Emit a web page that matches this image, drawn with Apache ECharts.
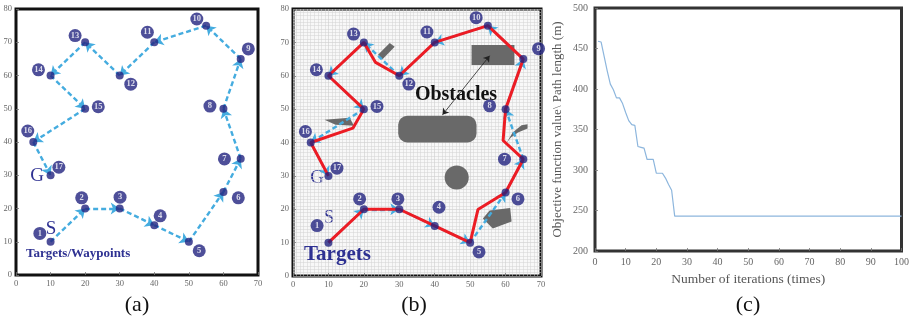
<!DOCTYPE html>
<html><head><meta charset="utf-8">
<script src="https://cdn.jsdelivr.net/npm/echarts@6/dist/echarts.min.js"></script>
<style>html,body{margin:0;padding:0;background:#fff}#c{width:912px;height:325px}</style>
</head><body><div id="c"></div>
<script>
// ---- data ----
const targetX = [10,20,30,40,50,60,65,60,65,55,40,30,20,10,20,5,10];
const targetY = [10,20,20,15,10,25,35,50,65,75,70,60,70,60,50,40,30];
const labelAX = [6.9,19.0,30.1,41.7,53.0,64.3,60.3,56.1,67.2,52.3,38.0,33.2,17.1,6.5,23.8,3.4,12.4];
const labelAY = [12.5,23.2,23.4,17.8,7.3,23.2,34.9,50.8,68.0,77.0,73.0,57.4,72.0,61.7,50.6,43.3,32.4];
const labelBX = [6.8,18.8,29.6,41.2,52.5,63.5,59.7,55.5,69.3,51.7,37.8,32.7,17.1,6.6,23.7,3.5,12.4];
const labelBY = [15.1,23.1,23.1,20.6,7.2,23.1,35.0,51.0,68.1,77.4,73.1,57.5,72.5,61.8,50.8,43.3,32.3];
const redPathX = [10,20,30,40,50,52.2,60,65,59.3,60,65,55,40,30,23.3,20,10,20,16.9,5,10];
const redPathY = [10,20,20,15,10,19.9,25,35,40.6,50,65,75,70,60,64,70,60,50,44.3,40,30];
const obstaclePolygons = [
  [[50.4,63.2],[62.5,63.2],[62.5,69.2],[50.4,69.2]],
  [[24.0,66.3],[27.3,69.8],[28.7,68.7],[25.2,64.9]],
  [[8.9,46.8],[16.0,47.4],[17.2,45.0],[12.0,45.3]],
  [[60.2,39.8],[62.0,43.0],[64.5,45.2],[66.2,45.5],[66.2,44.2],[63.5,43.0],[61.5,41.5]],
  [[53.6,17.2],[55.5,19.6],[61.3,20.4],[61.7,16.3],[56.4,14.2]]
];
const obstacleRoundRects = [[29.7,40,51.8,48]];
const obstacleCircles = [[46.2,29.5,3.5]];
const obstacleArrow = [[42.2,48.3],[55.5,66]];
const iterations = [1,2,3,4,5,6,7,8,9,10,11,12,13,14,15,16,17,18,19,20,21,22,23,24,25,26,27,28,29,30,31,32,33,34,35,36,37,38,39,40,41,42,43,44,45,46,47,48,49,50,51,52,53,54,55,56,57,58,59,60,61,62,63,64,65,66,67,68,69,70,71,72,73,74,75,76,77,78,79,80,81,82,83,84,85,86,87,88,89,90,91,92,93,94,95,96,97,98,99,100];
const pathLength = [459,458,440,422,406,399,389,389,382,371,361,356,355,329,328,327,313,313,313,296,296,296,290,282,275,243,
243,243,243,243,243,243,243,243,243,243,243,243,243,243,243,243,243,243,243,243,243,243,243,243,243,243,243,243,243,243,243,243,243,243,243,243,243,243,243,243,243,243,243,243,243,243,243,243,243,243,243,243,243,243,243,243,243,243,243,243,243,243,243,243,243,243,243,243,243,243,243,243,243,243];
const abXTicks = [0,70,10];
const abYTicks = [0,80,10];
const cXTicks = [0,100,10];
const cYTicks = [200,500,50];

// ---- styles ----
const SERIF = 'Liberation Serif';
const NAVY = '#22237f';
const LBLUE = '#45acdf';

function pts(xs, ys){ return xs.map((x,i)=>[x, ys[i]]); }
function segs(xs, ys){ const o=[]; for(let i=0;i<xs.length-1;i++) o.push({coords:[[xs[i],ys[i]],[xs[i+1],ys[i+1]]]}); return o; }
function labelData(xs, ys){ return xs.map((x,i)=>({value:[x, ys[i]], name:String(i+1)})); }

function axis(gi, t, gridLines, fs, margin){
  const a = {
    gridIndex: gi, type:'value', min:t[0], max:t[1], interval:t[2],
    axisLine:{show:false},
    axisTick:{show:true, inside:true, length:3, lineStyle:{color:'#777', width:0.8}},
    axisLabel:{fontFamily:SERIF, fontSize:fs, color:'#666', margin:margin},
    splitLine:{show:gridLines, lineStyle:{color:'#cdcdcd', width:0.6}}
  };
  if (gridLines){
    a.minorTick = {show:false, splitNumber:10};
    a.minorSplitLine = {show:true, lineStyle:{color:'#d2d2d2', width:0.5}};
  }
  return a;
}

const chart = echarts.init(document.getElementById('c'), null, {renderer:'canvas'});

function pathSeries(gi){
  return [
    {type:'lines', coordinateSystem:'cartesian2d', xAxisIndex:gi, yAxisIndex:gi, z:3,
     symbol:['none','arrow'], symbolSize:9, symbolOffset:[0, 8],
     lineStyle:{color:LBLUE, width:2.4, type:[5,3], opacity:1},
     data: segs(targetX, targetY)}
  ];
}
function markerSeries(gi, lx, ly){
  return [
    {type:'scatter', xAxisIndex:gi, yAxisIndex:gi, z:6, symbol:'circle', symbolSize:8,
     itemStyle:{color:NAVY}, data: pts(targetX, targetY)},
    {type:'scatter', xAxisIndex:gi, yAxisIndex:gi, z:6, symbol:'circle', symbolSize:13,
     itemStyle:{color:NAVY},
     label:{show:true, position:'inside', formatter:'{b}', color:'#fff', fontSize:8.5, fontWeight:'bold', fontFamily:SERIF},
     data: labelData(lx, ly)}
  ];
}

const option = {
  animation:false,
  backgroundColor:'#fff',
  grid:[
    {left:16, top:9, width:242, height:266, show:true, borderColor:'#111', borderWidth:3, backgroundColor:'#fff'},
    {left:293, top:9, width:248, height:267, show:true, borderColor:'#111', borderWidth:3, backgroundColor:'#f8f8f8'},
    {left:595, top:8, width:308, height:243, show:true, borderColor:'#333', borderWidth:3, backgroundColor:'#fff'}
  ],
  xAxis:[
    axis(0, abXTicks, false, 8.5, 4),
    axis(1, abXTicks, true, 8.5, 4),
    Object.assign(axis(2, cXTicks, false, 10, 6), {name:'Number of iterations (times)', nameLocation:'middle', nameGap:21,
      nameTextStyle:{fontFamily:SERIF, fontSize:13.5, color:'#555'}})
  ],
  yAxis:[
    axis(0, abYTicks, false, 8.5, 4),
    axis(1, abYTicks, true, 8.5, 4),
    Object.assign(axis(2, cYTicks, false, 10, 7), {name:'Objective function value\\ Path length (m)', nameLocation:'middle', nameGap:31,
      nameTextStyle:{fontFamily:SERIF, fontSize:13, color:'#555'}})
  ],
  series:[
    ...pathSeries(0),
    ...markerSeries(0, labelAX, labelAY),
    // panel b obstacles
    {type:'custom', xAxisIndex:1, yAxisIndex:1, z:2, data: obstaclePolygons.map((p,i)=>i),
     renderItem:(params, api)=>({type:'polygon', shape:{points: obstaclePolygons[params.dataIndex].map(p=>api.coord(p))}, style:{fill:'#696969'}})},
    {type:'custom', xAxisIndex:1, yAxisIndex:1, z:2, data: obstacleRoundRects.map((p,i)=>i),
     renderItem:(params, api)=>{ const r = obstacleRoundRects[params.dataIndex]; const a = api.coord([r[0], r[3]]); const b = api.coord([r[2], r[1]]);
       return {type:'rect', shape:{x:a[0], y:a[1], width:b[0]-a[0], height:b[1]-a[1], r:9}, style:{fill:'#696969'}}; }},
    {type:'custom', xAxisIndex:1, yAxisIndex:1, z:2, data: obstacleCircles.map((p,i)=>i),
     renderItem:(params, api)=>{ const c = obstacleCircles[params.dataIndex]; const p = api.coord([c[0], c[1]]); const s = api.size([c[2], c[2]]);
       return {type:'circle', shape:{cx:p[0], cy:p[1], r:(s[0]+s[1])/2}, style:{fill:'#696969'}}; }},
    ...pathSeries(1),
    {type:'line', xAxisIndex:1, yAxisIndex:1, z:4, symbol:'none', data: pts(redPathX, redPathY),
     lineStyle:{color:'#ec1c24', width:3}},
    {type:'lines', coordinateSystem:'cartesian2d', xAxisIndex:1, yAxisIndex:1, z:5,
     symbol:['arrow','arrow'], symbolSize:6, lineStyle:{color:'#222', width:0.8, opacity:1},
     data:[{coords: obstacleArrow}]},
    ...markerSeries(1, labelBX, labelBY),
    // panel c
    {type:'line', xAxisIndex:2, yAxisIndex:2, symbol:'none', data: pts(iterations, pathLength),
     lineStyle:{color:'#8db6dd', width:1.2}}
  ],
  graphic:[
    {type:'text', left:26, top:247, style:{text:'Targets/Waypoints', font:'bold 13px "Liberation Serif"', fill:'#2e3192'}},
    {type:'text', x:51, y:229, style:{text:'S', font:'19px "Liberation Serif"', fill:'#2e3192', align:'center', verticalAlign:'middle'}},
    {type:'text', x:37, y:176, style:{text:'G', font:'19px "Liberation Serif"', fill:'#2e3192', align:'center', verticalAlign:'middle'}},
    {type:'text', x:329, y:218, style:{text:'S', font:'19px "Liberation Serif"', fill:'#2e3192', align:'center', verticalAlign:'middle'}},
    {type:'text', x:317, y:178, style:{text:'G', font:'19px "Liberation Serif"', fill:'#2e3192', align:'center', verticalAlign:'middle'}},
    {type:'text', x:304, y:255, z:10, style:{text:'Targets', font:'bold 21px "Liberation Serif"', fill:'#2e3192', verticalAlign:'middle'}},
    {type:'text', x:456, y:95, z:10, style:{text:'Obstacles', font:'bold 20px "Liberation Serif"', fill:'#111', align:'center', verticalAlign:'middle'}},
    {type:'text', x:137, y:305, style:{text:'(a)', font:'22px "Liberation Serif"', fill:'#111', align:'center', verticalAlign:'middle'}},
    {type:'text', x:414, y:305, style:{text:'(b)', font:'22px "Liberation Serif"', fill:'#111', align:'center', verticalAlign:'middle'}},
    {type:'text', x:748, y:305, style:{text:'(c)', font:'22px "Liberation Serif"', fill:'#111', align:'center', verticalAlign:'middle'}}
  ]
};
chart.setOption(option);
</script></body></html>
